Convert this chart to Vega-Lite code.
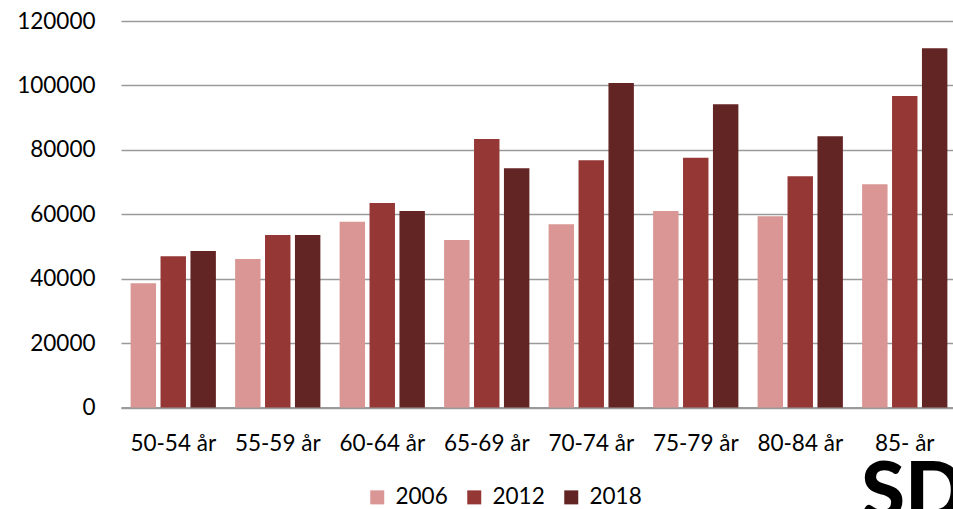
{
  "$schema": "https://vega.github.io/schema/vega-lite/v6.json",
  "width": 836,
  "height": 386.5,
  "autosize": {"type": "none"},
  "padding": {"left": 121, "top": 21, "right": 0, "bottom": 101.5},
  "background": "white",
  "title": {
    "text": "SD",
    "orient": "bottom",
    "anchor": "end",
    "frame": "group",
    "font": "Lato",
    "fontWeight": 900,
    "fontSize": 80,
    "color": "#000000",
    "baseline": "alphabetic",
    "offset": 0,
    "dx": 9,
    "dy": 10
  },
  "data": {
    "values": [
      {"group": "50-54 år", "year": "2006", "value": 38600},
      {"group": "50-54 år", "year": "2012", "value": 46950},
      {"group": "50-54 år", "year": "2018", "value": 48600},
      {"group": "55-59 år", "year": "2006", "value": 46100},
      {"group": "55-59 år", "year": "2012", "value": 53560},
      {"group": "55-59 år", "year": "2018", "value": 53560},
      {"group": "60-64 år", "year": "2006", "value": 57700},
      {"group": "60-64 år", "year": "2012", "value": 63500},
      {"group": "60-64 år", "year": "2018", "value": 61000},
      {"group": "65-69 år", "year": "2006", "value": 52000},
      {"group": "65-69 år", "year": "2012", "value": 83370},
      {"group": "65-69 år", "year": "2018", "value": 74270},
      {"group": "70-74 år", "year": "2006", "value": 56880},
      {"group": "70-74 år", "year": "2012", "value": 76750},
      {"group": "70-74 år", "year": "2018", "value": 100760},
      {"group": "75-79 år", "year": "2006", "value": 61010},
      {"group": "75-79 år", "year": "2012", "value": 77570},
      {"group": "75-79 år", "year": "2018", "value": 94140},
      {"group": "80-84 år", "year": "2006", "value": 59370},
      {"group": "80-84 år", "year": "2012", "value": 71790},
      {"group": "80-84 år", "year": "2018", "value": 84210},
      {"group": "85- år", "year": "2006", "value": 69300},
      {"group": "85- år", "year": "2012", "value": 96720},
      {"group": "85- år", "year": "2018", "value": 111530}
    ]
  },
  "mark": {"type": "bar"},
  "encoding": {
    "x": {
      "field": "group",
      "type": "nominal",
      "sort": null,
      "scale": {"paddingInner": 0.184, "paddingOuter": 0.092},
      "axis": {
        "title": null,
        "labelAngle": 0,
        "ticks": false,
        "domain": true,
        "domainColor": "#9a9a9a",
        "domainWidth": 2,
        "labelFont": "Lato",
        "labelFontSize": 22.5,
        "labelColor": "#000000",
        "labelPadding": 25,
        "grid": false
      }
    },
    "xOffset": {
      "field": "year",
      "type": "nominal",
      "scale": {"paddingInner": 0.15, "paddingOuter": 0}
    },
    "y": {
      "field": "value",
      "type": "quantitative",
      "scale": {"domain": [0, 120000], "nice": false},
      "axis": {
        "title": null,
        "values": [0, 20000, 40000, 60000, 80000, 100000, 120000],
        "format": "d",
        "domain": false,
        "ticks": false,
        "grid": true,
        "gridColor": "#9a9a9a",
        "gridWidth": 1.6,
        "labelFont": "Lato",
        "labelFontSize": 22.5,
        "labelColor": "#000000",
        "labelPadding": 26
      }
    },
    "color": {
      "field": "year",
      "type": "nominal",
      "scale": {"domain": ["2006", "2012", "2018"], "range": ["#d99694", "#953735", "#632523"]},
      "legend": {
        "title": null,
        "orient": "none",
        "direction": "horizontal",
        "legendX": 245,
        "legendY": 465,
        "padding": 0,
        "symbolType": "square",
        "symbolSize": 196,
        "symbolStrokeWidth": 0,
        "labelFont": "Lato",
        "labelFontSize": 22.5,
        "labelColor": "#000000",
        "labelOffset": 7,
        "columnPadding": 15
      }
    }
  },
  "config": {
    "view": {"stroke": null}
  }
}
